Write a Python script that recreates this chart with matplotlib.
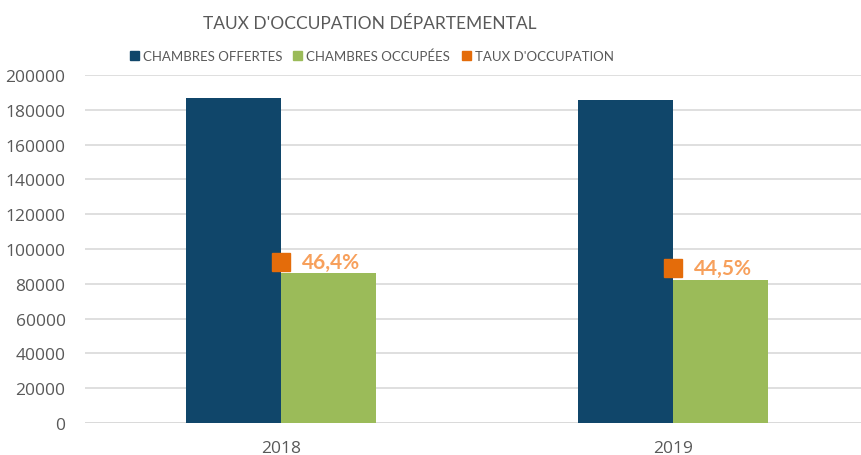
import matplotlib.pyplot as plt
import numpy as np

years = ['2018', '2019']
chambres_offertes = [186800, 185600]
chambres_occupees = [86400, 82200]
taux_occupation = [0.464, 0.445]
taux_labels = ['46,4%', '44,5%']

c_off = '#10466A'
c_occ = '#9BBB59'
c_taux = '#E46C0A'
c_label = '#F7A05C'
grey = '#595959'

fig = plt.figure(figsize=(8.62, 4.56), dpi=100)
ax = fig.add_axes([85/862, 1 - 424/456, 777/862, 348/456])

x = np.arange(len(years))
w = 0.243
ax.bar(x - w/2, chambres_offertes, w, color=c_off, zorder=2)
ax.bar(x + w/2, chambres_occupees, w, color=c_occ, zorder=2)

ax.set_ylim(0, 200000)
ax.set_yticks(np.arange(0, 200001, 20000))
ax.set_xlim(-0.5, 1.482)
ax.set_xticks(x, years)
ax.yaxis.grid(True, color='#D9D9D9', linewidth=1.2, zorder=0)
for s in ax.spines.values():
    s.set_visible(False)
ax.tick_params(length=0, labelsize=12.5, labelcolor=grey)
ax.tick_params(axis='y', pad=14)
ax.tick_params(axis='x', pad=12)
for lbl in ax.get_xticklabels() + ax.get_yticklabels():
    lbl.set_fontfamily('Open Sans')
ax.axhline(0, color='#D9D9D9', linewidth=1.2, zorder=1)

# taux on hidden secondary axis 0-100%
ax2 = ax.twinx()
ax2.set_ylim(0, 1)
ax2.axis('off')
ax2.plot(x, taux_occupation, 's', color=c_taux, markersize=13, zorder=3)
for xi, yi, t in zip(x, taux_occupation, taux_labels):
    ax2.annotate(t, (xi, yi), xytext=(15, 0), textcoords='offset points',
                 va='center', ha='left', color=c_label, fontsize=15,
                 fontweight='bold', family='Lato')

fig.text(370/862, 1 - 24/456, "TAUX D'OCCUPATION DÉPARTEMENTAL", ha='center',
         va='center', fontsize=12.5, color=grey, family='Lato')

# legend
leg_items = [('CHAMBRES OFFERTES', c_off, 130), ('CHAMBRES OCCUPÉES', c_occ, 293),
             ('TAUX D\'OCCUPATION', c_taux, 462)]
for name, col, px in leg_items:
    fig.patches.append(plt.Rectangle((px/862, 1 - 61/456), 9/862, 9/456,
                                     transform=fig.transFigure, color=col))
    fig.text((px + 13)/862, 1 - 57/456, name, ha='left', va='center',
             fontsize=9.5, color=grey, family='Lato')

fig.savefig('out.png', dpi=100)
